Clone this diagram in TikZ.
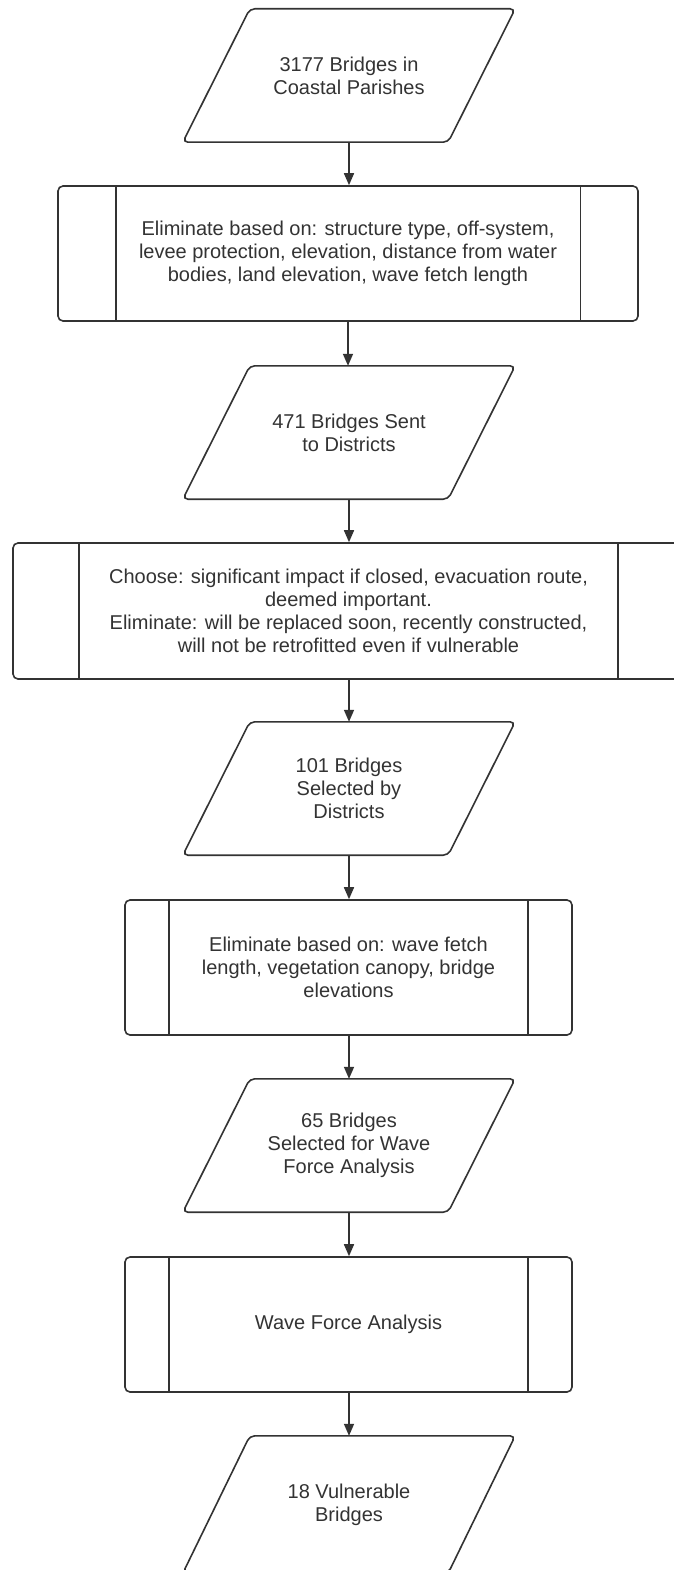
\documentclass[tikz,border=0pt]{standalone}
\usepackage{fontspec}
\setmainfont{Liberation Sans}
\usetikzlibrary{arrows.meta,calc}
\definecolor{ln}{HTML}{333333}
\definecolor{tx}{HTML}{333333}
\newcommand\drawio[1]{\draw[shp] ($(#1.north west)+(33.5,0)$) -- ($(#1.north east)+(33.5,0)$) -- ($(#1.south east)+(-33.5,0)$) -- ($(#1.south west)+(-33.5,0)$) -- cycle;}
\newcommand\procbars[2]{\draw[bar] ($(#1.north west)+(#2,0)$) -- ($(#1.south west)+(#2,0)$);\draw[bar] ($(#1.north east)+(-#2,0)$) -- ($(#1.south east)+(-#2,0)$);}
\begin{document}
\begin{tikzpicture}[x=1pt,y=-1pt,
  txt/.style={inner sep=0pt, align=center, text=tx, font=\fontsize{20}{23}\selectfont},
  io/.style={txt, minimum width=265pt, minimum height=133pt},
  proc/.style={txt, draw=ln, line width=1.6pt, rounded corners=5pt, minimum height=135pt},
  shp/.style={draw=ln, line width=1.6pt, rounded corners=5pt},
  bar/.style={draw=ln, line width=1.6pt},
  arr/.style={draw=ln, line width=1.6pt, -{Triangle[width=10pt,length=12pt]}}]
\clip (0,0) rectangle (674,1570);
\fill[white] (0,0) rectangle (674,1570);

\node[io] (p1) at (349,75.5) {3177 Bridges in\\Coastal Parishes};
\drawio{p1}
\node[proc, minimum width=580pt] (b1) at (348,253.5) {Eliminate based on: structure type, off-system,\\levee protection, elevation, distance from water\\bodies, land elevation, wave fetch length};
\procbars{b1}{58.5}
\node[io] (p2) at (349,432.5) {471 Bridges Sent\\to Districts};
\drawio{p2}
\node[proc, minimum width=671pt, minimum height=136pt] (b2) at (348.5,611) {Choose: significant impact if closed, evacuation route,\\deemed important.\\Eliminate: will be replaced soon, recently constructed,\\will not be retrofitted even if vulnerable};
\procbars{b2}{67}
\node[io] (p3) at (349,788.5) {101 Bridges\\Selected by\\Districts};
\drawio{p3}
\node[proc, minimum width=447pt] (b3) at (348.5,967.5) {Eliminate based on: wave fetch\\length, vegetation canopy, bridge\\elevations};
\procbars{b3}{45}
\node[io] (p4) at (349,1145.5) {65 Bridges\\Selected for Wave\\Force Analysis};
\drawio{p4}
\node[proc, minimum width=447pt] (b4) at (348.5,1324.5) {Wave Force Analysis};
\procbars{b4}{45}
\node[io, minimum height=137pt] (p5) at (349,1504.5) {18 Vulnerable\\Bridges};
\drawio{p5}

\draw[arr] (p1.south) -- (p1.south |- b1.north);
\draw[arr] (b1.south) -- (b1.south |- p2.north);
\draw[arr] (p2.south) -- (p2.south |- b2.north);
\draw[arr] (p2.south |- b2.south) -- (p2.south |- p3.north);
\draw[arr] (p3.south) -- (p3.south |- b3.north);
\draw[arr] (p3.south |- b3.south) -- (p4.north);
\draw[arr] (p4.south) -- (p4.south |- b4.north);
\draw[arr] (p4.south |- b4.south) -- (p5.north);
\end{tikzpicture}
\end{document}
